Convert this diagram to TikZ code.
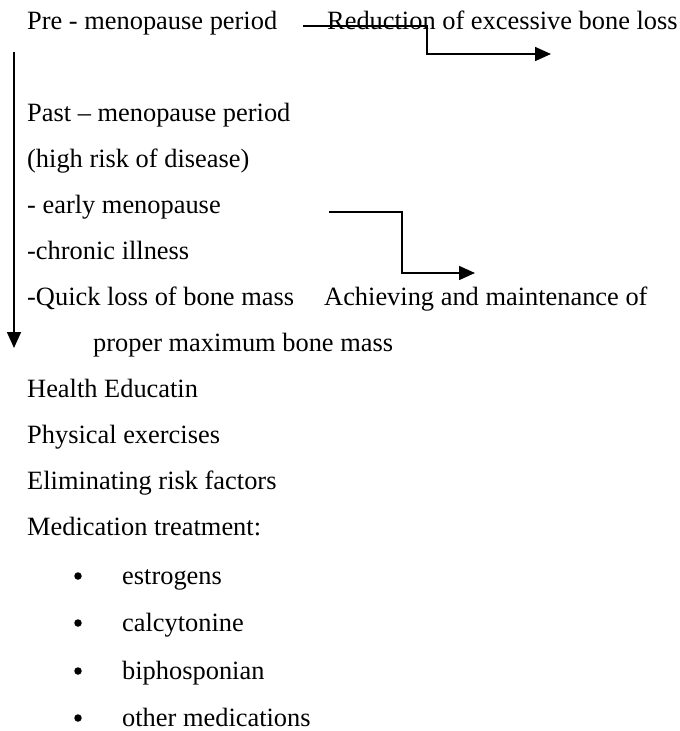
\documentclass[tikz,border=0pt]{standalone}
\usepackage{fontspec}
\setmainfont{Liberation Serif}
\usetikzlibrary{arrows.meta}
\begin{document}
\begin{tikzpicture}[x=1pt,y=-1pt,
  txt/.style={anchor=base west,inner sep=0pt,font=\fontsize{26.4}{31}\selectfont},
  conn/.style={line width=1.6pt,-{Triangle[length=16pt,width=14pt]}},
  bul/.style={circle,fill=black,inner sep=0pt,minimum size=7.5pt}]
\useasboundingbox (0,0) rectangle (680,731);
\node[txt] (pre) at (27,29) {Pre - menopause period};
\node[txt] (red) at (327,29) {Reduction of excessive bone loss};
\node[txt] (past) at (27,121) {Past – menopause period};
\node[txt] (high) at (27,167) {(high risk of disease)};
\node[txt] (early) at (27,213) {- early menopause};
\node[txt] (chron) at (27,259) {-chronic illness};
\node[txt] (quick) at (27,305) {-Quick loss of bone mass};
\node[txt] (ach) at (324,305) {Achieving and maintenance of};
\node[txt] (prop) at (93,351) {proper maximum bone mass};
\node[txt] (health) at (27,397) {Health Educatin};
\node[txt] (phys) at (27,443) {Physical exercises};
\node[txt] (elim) at (27,489) {Eliminating risk factors};
\node[txt] (med) at (27,535) {Medication treatment:};
\node[txt] (b1) at (122,584) {estrogens};
\node[txt] (b2) at (122,631) {calcytonine};
\node[txt] (b3) at (122,679) {biphosponian};
\node[txt] (b4) at (122,726) {other medications};
\foreach \i/\y in {1/584,2/631,3/679,4/726}
  \node[bul] (d\i) at (78,\y-8) {};
\coordinate (a1s) at (303,26);
\coordinate (a1e) at (551,54);
\draw[conn] (a1s) -- (427,26) |- (a1e);
\coordinate (a2s) at (329,212);
\coordinate (a2e) at (475,273);
\draw[conn] (a2s) -- (402,212) |- (a2e);
\coordinate (vs) at (14,52);
\coordinate (ve) at (14,348);
\draw[conn] (vs) -- (ve);
\end{tikzpicture}
\end{document}
